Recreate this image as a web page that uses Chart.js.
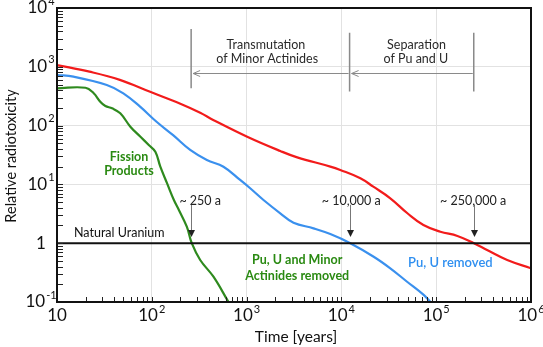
<!DOCTYPE html>
<html lang="en">
<head>
<meta charset="UTF-8">
<title>Relative radiotoxicity</title>
<script src="https://cdn.jsdelivr.net/npm/chart.js"></script>
<style>
  body { margin: 0; background: #fff; }
</style>
</head>
<body>
<canvas id="toxChart" width="543" height="347"></canvas>
<script>
// all actinides still in the waste (red)
const redYears = [10, 22, 46, 96, 200, 324, 444, 1014, 2265, 3420, 7640, 9730, 15850, 21700, 32800, 49700, 73300, 110700, 167500, 250000, 344000, 561000, 1000000];
const redTox = [1070, 826, 600, 375, 235, 165, 125, 64.7, 37, 28.8, 20.1, 17.6, 12.7, 9.15, 5.81, 3.23, 2.04, 1.57, 1.33, 1.0, 0.766, 0.518, 0.374];

// Pu, U removed (blue)
const blueYears = [10, 14.9, 33.5, 50.1, 75.2, 113, 169, 254, 381, 570, 855, 1091, 1507, 2265, 3126, 5080, 7640, 12400, 21900, 32800, 49300, 73800, 86900];
const blueTox = [726, 679, 490, 354, 210, 115, 68, 38.5, 26.0, 20.0, 11.9, 8.59, 5.43, 3.23, 2.23, 1.79, 1.43, 1.0, 0.589, 0.374, 0.221, 0.132, 0.1];

// fission products only (green)
const greenYears = [10, 20, 24.4, 28.6, 32.4, 38.1, 46.5, 59.4, 75.9, 92.9, 109, 123, 145, 171, 193, 234, 264, 324, 447, 644];
const greenTox = [431, 440, 354, 255, 215, 197, 162, 95.8, 64.7, 46.8, 36.0, 20.0, 10.4, 5.43, 3.67, 1.91, 1.0, 0.518, 0.269, 0.1];

const uraniumYears = [10, 1000000];
const uraniumTox = [1, 1];

const xTicks = [10, 100, 1000, 10000, 100000, 1000000];
const xTickBase = ['10', '10', '10', '10', '10', '10'];
const xTickExp = ['', '2', '3', '4', '5', '6'];
const yTicks = [0.1, 1, 10, 100, 1000, 10000];
const yTickBase = ['10', '1', '10', '10', '10', '10'];
const yTickExp = ['-1', '', '1', '2', '3', '4'];

// time markers (years) for the separation stages
const stageYears = [260, 12200, 249000];
const stageLabels = ['~ 250 a', '~ 10,000 a', '~ 250,000 a'];
const stageLabelYears = [324, 12700, 245000];

const FONT = 'Lato, "Open Sans", sans-serif';

function pts(xs, ys) {
    return xs.map((x, i) => ({ x: x, y: ys[i] }));
}

function powLabel(ctx, base, exp, cx, cy) {
    ctx.font = '17px ' + FONT;
    const wb = ctx.measureText(base).width;
    ctx.font = '11px ' + FONT;
    const we = exp ? ctx.measureText(exp).width + 1 : 0;
    const left = cx - (wb + we) / 2;
    ctx.textAlign = 'left';
    ctx.textBaseline = 'middle';
    ctx.font = '17px ' + FONT;
    ctx.fillText(base, left, cy);
    if (exp) {
        ctx.font = '11px ' + FONT;
        ctx.fillText(exp, left + wb + 1, cy - 7);
    }
}

const decor = {
    id: 'decor',
    afterDraw(chart) {
        const ctx = chart.ctx;
        const xs = chart.scales.x, ys = chart.scales.y;
        const a = chart.chartArea;
        const X = v => xs.getPixelForValue(v);
        const Y = v => ys.getPixelForValue(v);
        ctx.save();

        // inside ticks
        ctx.strokeStyle = '#222';
        ctx.lineWidth = 1;
        ctx.beginPath();
        for (let d = -1; d < 4; d++) {
            for (let m = 1; m < 10; m++) {
                const py = Math.round(Y(m * Math.pow(10, d))) + 0.5;
                ctx.moveTo(a.left, py);
                ctx.lineTo(a.left + 6, py);
            }
        }
        for (let d = 1; d < 6; d++) {
            for (let m = 1; m < 10; m++) {
                const px = Math.round(X(m * Math.pow(10, d))) + 0.5;
                ctx.moveTo(px, a.bottom);
                ctx.lineTo(px, a.bottom - 5);
            }
        }
        ctx.stroke();

        // frame
        ctx.strokeStyle = '#111';
        ctx.lineWidth = 2;
        ctx.strokeRect(a.left, a.top, a.right - a.left, a.bottom - a.top);

        // tick labels
        ctx.fillStyle = '#111';
        yTicks.forEach((v, i) => powLabel(ctx, yTickBase[i], yTickExp[i], 41, Y(v)));
        xTicks.forEach((v, i) => powLabel(ctx, xTickBase[i], xTickExp[i], X(v), 316));

        // axis titles
        ctx.textAlign = 'center';
        ctx.textBaseline = 'middle';
        ctx.font = '15.5px ' + FONT;
        ctx.fillText('Time [years]', (a.left + a.right) / 2 + 2, 337);
        ctx.save();
        ctx.translate(11, 156);
        ctx.rotate(-Math.PI / 2);
        ctx.font = '14.5px ' + FONT;
        ctx.fillText('Relative radiotoxicity', 0, 0);
        ctx.restore();

        // stage bars and arrows
        ctx.strokeStyle = '#8a8a8a';
        ctx.lineWidth = 1.5;
        ctx.beginPath();
        ctx.moveTo(X(stageYears[0]), Y(4400)); ctx.lineTo(X(stageYears[0]), Y(430));
        ctx.moveTo(X(stageYears[1]), Y(3800)); ctx.lineTo(X(stageYears[1]), Y(380));
        ctx.moveTo(X(stageYears[2]), Y(3800)); ctx.lineTo(X(stageYears[2]), Y(380));
        ctx.stroke();
        ctx.lineWidth = 1;
        ctx.beginPath();
        for (let i = 0; i < 2; i++) {
            const x0 = X(stageYears[i]) + 2, x1 = X(stageYears[i + 1]) - 1;
            const yy = Math.round(Y(795)) + 0.5;
            ctx.moveTo(x1, yy); ctx.lineTo(x0, yy);
            ctx.moveTo(x0 + 7, yy - 3); ctx.lineTo(x0, yy); ctx.lineTo(x0 + 7, yy + 3);
        }
        ctx.stroke();

        ctx.fillStyle = '#2a2a2a';
        ctx.font = '12.5px ' + FONT;
        ctx.fillText('Transmutation', X(1600), Y(2350));
        ctx.fillText('of Minor Actinides', X(1650), Y(1360));
        ctx.fillText('Separation', X(62000), Y(2350));
        ctx.fillText('of Pu and U', X(61000), Y(1360));

        // down arrows to natural uranium level
        stageYears.forEach((t, i) => {
            const px = Math.round(X(t)) + 0.5;
            ctx.strokeStyle = '#777';
            ctx.lineWidth = 1;
            ctx.beginPath();
            ctx.moveTo(px, Y(4.5)); ctx.lineTo(px, Y(1.5));
            ctx.stroke();
            const tip = Y(1.28);
            ctx.fillStyle = '#222';
            ctx.beginPath();
            ctx.moveTo(px - 3.5, tip - 7); ctx.lineTo(px + 3.5, tip - 7); ctx.lineTo(px, tip);
            ctx.closePath();
            ctx.fill();
            ctx.fillStyle = '#222';
            ctx.font = '12.5px ' + FONT;
            ctx.fillText(stageLabels[i], X(stageLabelYears[i]), Y(5.3));
        });

        ctx.fillStyle = '#111';
        ctx.textAlign = 'left';
        ctx.font = '12.5px ' + FONT;
        ctx.fillText('Natural Uranium', X(15.1), Y(1.51));

        // series labels
        ctx.textAlign = 'center';
        ctx.fillStyle = '#2a8a12';
        ctx.font = 'bold 12.5px ' + FONT;
        ctx.fillText('Fission', X(57.5), Y(29.6));
        ctx.fillText('Products', X(57.5), Y(17.1));
        ctx.fillText('Pu, U and Minor', X(3420), Y(0.518));
        ctx.fillText('Actinides removed', X(3420), Y(0.277));
        ctx.fillStyle = '#2f8ff0';
        ctx.font = '600 13px ' + FONT;
        ctx.fillText('Pu, U removed', X(141000), Y(0.455));

        ctx.restore();
    }
};

const lineStyle = { fill: false, pointRadius: 0, borderWidth: 2.2, tension: 0.4 };

new Chart(document.getElementById('toxChart'), {
    type: 'line',
    data: {
        datasets: [
            Object.assign({ label: 'Natural Uranium', data: pts(uraniumYears, uraniumTox), borderColor: '#111', }, lineStyle, { borderWidth: 2, tension: 0 }),
            Object.assign({ label: 'Total', data: pts(redYears, redTox), borderColor: '#f21b1b' }, lineStyle),
            Object.assign({ label: 'Pu, U removed', data: pts(blueYears, blueTox), borderColor: '#3a90ee' }, lineStyle),
            Object.assign({ label: 'Fission Products', data: pts(greenYears, greenTox), borderColor: '#2e8a1e' }, lineStyle),
        ],
    },
    options: {
        responsive: false,
        animation: false,
        layout: { padding: { top: 8, right: 12, left: 0, bottom: 0 } },
        plugins: { legend: { display: false }, tooltip: { enabled: false } },
        scales: {
            x: {
                type: 'logarithmic',
                min: 10,
                max: 1000000,
                afterBuildTicks: s => { s.ticks = xTicks.map(v => ({ value: v })); },
                afterFit: s => { s.height = 45; },
                ticks: { display: false },
                grid: { color: '#e2e2e2', drawTicks: false },
                border: { display: false },
            },
            y: {
                type: 'logarithmic',
                min: 0.1,
                max: 10000,
                afterBuildTicks: s => { s.ticks = yTicks.map(v => ({ value: v })); },
                afterFit: s => { s.width = 57; },
                ticks: { display: false },
                grid: { color: '#e2e2e2', drawTicks: false },
                border: { display: false },
            },
        },
    },
    plugins: [decor],
});
</script>
</body>
</html>
